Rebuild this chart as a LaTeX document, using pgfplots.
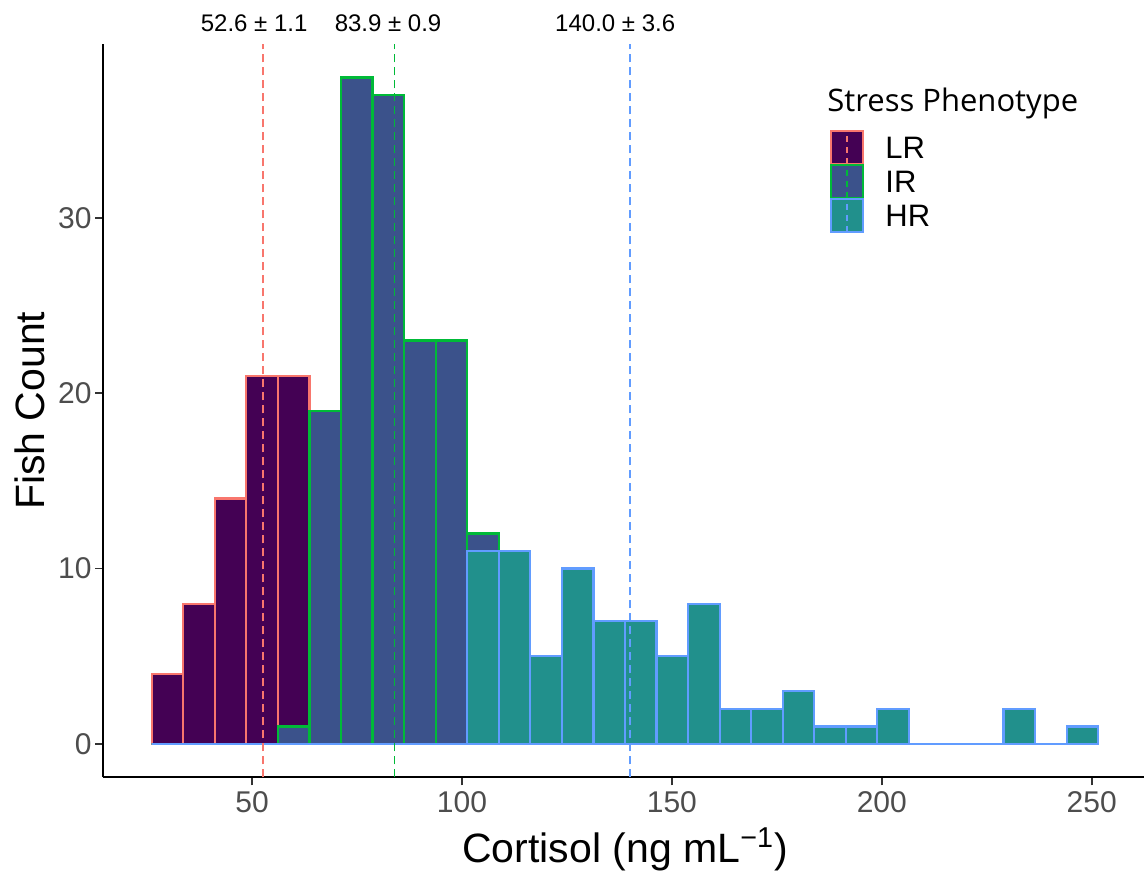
\documentclass[border=0pt]{standalone}
\usepackage{fontspec}
\setmainfont{Liberation Sans}
\newfontfamily\legfont{Open Sans}
\usepackage{pgfplots}
\usepackage{pgfplotstable}
\pgfplotsset{compat=1.18}
\definecolor{lrfill}{HTML}{440154}
\definecolor{irfill}{HTML}{3B528B}
\definecolor{hrfill}{HTML}{21908C}
\definecolor{lrline}{HTML}{F8766D}
\definecolor{irline}{HTML}{00BA38}
\definecolor{hrline}{HTML}{619CFF}
\definecolor{ticktext}{HTML}{4D4D4D}
\definecolor{tickcol}{HTML}{333333}

\pgfplotstableread{
x lr ir hr
26.100 4 0 0
33.615 8 0 0
41.130 14 0 0
48.645 21 0 0
56.160 21 1 0
63.675 0 19 0
71.190 0 38 0
78.705 0 37 0
86.220 0 23 0
93.735 0 23 0
101.250 0 12 11
108.765 0 0 11
116.280 0 0 5
123.795 0 0 10
131.310 0 0 7
138.825 0 0 7
146.340 0 0 5
153.855 0 0 8
161.370 0 0 2
168.885 0 0 2
176.400 0 0 3
183.915 0 0 1
191.430 0 0 1
198.945 0 0 2
206.460 0 0 0
213.975 0 0 0
221.490 0 0 0
229.005 0 0 2
236.520 0 0 0
244.035 0 0 1
251.550 0 0 0
}\histdata

\begin{document}
\begin{tikzpicture}
\useasboundingbox (-51.7pt,-49.35pt) rectangle (520.3pt,388.65pt);
\begin{axis}[
  at={(0,0)}, anchor=south west,
  width=521.65pt, height=366.55pt, scale only axis,
  xmin=14.6, xmax=263.1, ymin=-1.9, ymax=39.9,
  axis lines*=left,
  axis line style={black, line width=0.9pt},
  xtick={50,100,150,200,250},
  ytick={0,10,20,30},
  tick align=outside,
  major tick length=4pt,
  tick style={tickcol, line width=0.9pt},
  /pgf/number format/assume math mode=true,
  ticklabel style={font=\fontsize{15}{18}\selectfont, text=ticktext, inner sep=0pt},
  xticklabel style={anchor=base, yshift=-13.6pt},
  yticklabel style={anchor=east, xshift=-1.7pt},
  xlabel={Cortisol (ng mL\textsuperscript{−1})},
  ylabel={Fish Count},
  label style={font=\fontsize{20.5}{24}\selectfont},
  xlabel style={at={(axis description cs:0.5,-0.1169)}, anchor=base, inner sep=0pt},
  ylabel style={at={(axis description cs:-0.05598,0.5)}, anchor=base, inner sep=0pt},
  clip=false,
]
\addplot[ybar interval, fill=lrfill, draw=lrline, line width=1.1pt] table[x=x, y=lr] {\histdata};
\addplot[ybar interval, fill=irfill, draw=irline, line width=1.1pt] table[x=x, y=ir] {\histdata};
\addplot[ybar interval, fill=hrfill, draw=hrline, line width=1.1pt] table[x=x, y=hr] {\histdata};

\addplot[lrline, line width=0.8pt, dash pattern=on 4pt off 2.5pt] coordinates {(52.6,-1.9) (52.6,39.9)};
\addplot[irline, line width=0.8pt, dash pattern=on 4pt off 2.5pt] coordinates {(83.9,-1.9) (83.9,39.9)};
\addplot[hrline, line width=0.8pt, dash pattern=on 4pt off 2.5pt] coordinates {(140.0,-1.9) (140.0,39.9)};

\node[font=\fontsize{12}{14}\selectfont, inner sep=0pt] at (axis cs:50.5,41.1) {52.6 ± 1.1};
\node[font=\fontsize{12}{14}\selectfont, inner sep=0pt] at (axis cs:82.4,41.1) {83.9 ± 0.9};
\node[font=\fontsize{12}{14}\selectfont, inner sep=0pt] at (axis cs:136.5,41.1) {140.0 ± 3.6};
\end{axis}

% legend
\node[anchor=base west, inner sep=0pt, font=\legfont\fontsize{15.5}{18}\selectfont] at (361.8pt,332.65pt) {Stress Phenotype};
\draw[fill=lrfill, draw=lrline, line width=1.1pt] (363.8pt,306.65pt) rectangle (379.8pt,323.15pt);
\draw[lrline, line width=0.8pt, dash pattern=on 3pt off 2.5pt] (371.8pt,306.65pt) -- (371.8pt,323.15pt);
\draw[fill=irfill, draw=irline, line width=1.1pt] (363.8pt,289.65pt) rectangle (379.8pt,306.15pt);
\draw[irline, line width=0.8pt, dash pattern=on 3pt off 2.5pt] (371.8pt,289.65pt) -- (371.8pt,306.15pt);
\draw[fill=hrfill, draw=hrline, line width=1.1pt] (363.8pt,272.65pt) rectangle (379.8pt,289.15pt);
\draw[hrline, line width=0.8pt, dash pattern=on 3pt off 2.5pt] (371.8pt,272.65pt) -- (371.8pt,289.15pt);
\node[anchor=west, inner sep=0pt, font=\fontsize{15.5}{18}\selectfont] at (390.8pt,314.9pt) {LR};
\node[anchor=west, inner sep=0pt, font=\fontsize{15.5}{18}\selectfont] at (390.8pt,297.9pt) {IR};
\node[anchor=west, inner sep=0pt, font=\fontsize{15.5}{18}\selectfont] at (390.8pt,280.9pt) {HR};
\end{tikzpicture}
\end{document}
